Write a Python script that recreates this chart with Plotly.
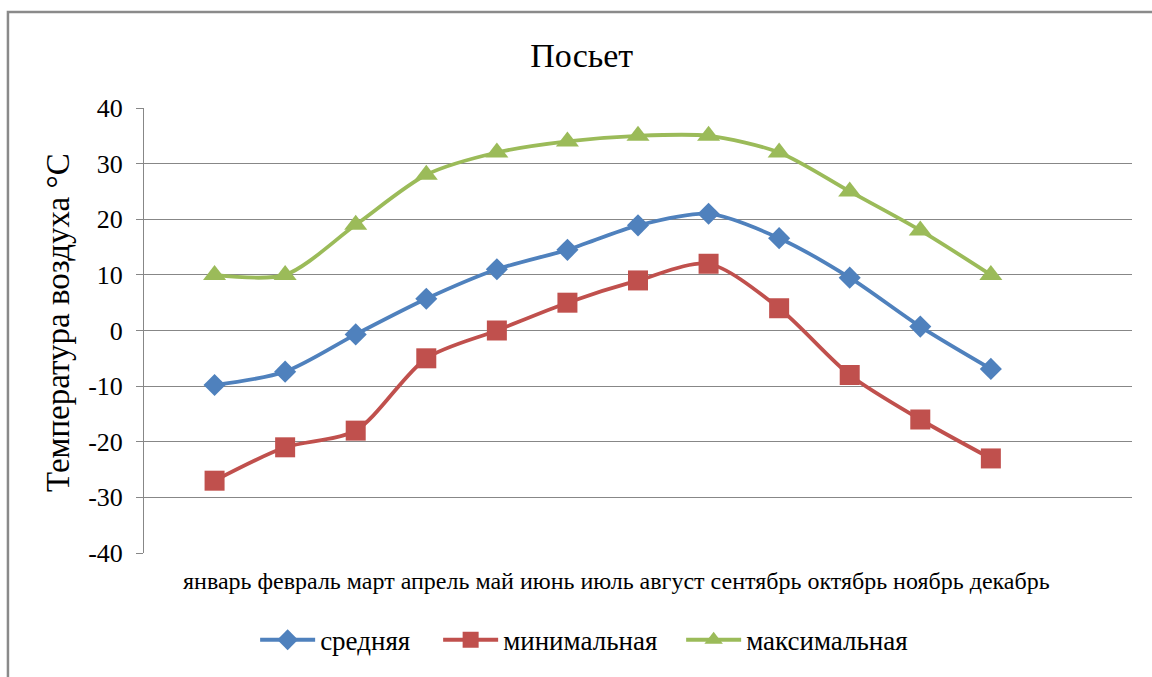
import plotly.graph_objects as go

# Monthly air temperature, Posyet (°C)
months = ["январь", "февраль", "март", "апрель", "май", "июнь",
          "июль", "август", "сентябрь", "октябрь", "ноябрь", "декабрь"]
t_mean = [-9.8, -7.4, -0.7, 5.7, 11.0, 14.5, 18.9, 21.0, 16.6, 9.5, 0.7, -6.9]
t_min = [-27, -21, -18, -5, 0, 5, 9, 12, 4, -8, -16, -23]
t_max = [10, 10, 19, 28, 32, 34, 35, 35, 32, 25, 18, 10]
y_ticks = [-40, -30, -20, -10, 0, 10, 20, 30, 40]

FONT = "Liberation Serif"
GRID = "#878787"

# name, values, colour, marker symbol, marker size, legend entry width (px)
series = [
    ("средняя", t_mean, "#4F81BD", "diamond", 17, 113),
    ("минимальная", t_min, "#C0504D", "square", 20, 173),
    ("максимальная", t_max, "#9BBB59", "triangle-up", 20, 165),
]

idx = list(range(len(months)))

fig = go.Figure()
for name, vals, color, symbol, size, lw in series:
    fig.add_trace(go.Scatter(
        x=idx, y=vals, name=name, mode="lines+markers",
        line=dict(color=color, width=3.8, shape="spline", smoothing=0.8),
        marker=dict(symbol=symbol, size=size, color=color, line=dict(width=0)),
        legendwidth=lw,
    ))

fig.update_layout(
    width=1152, height=677,
    margin=dict(l=144, r=20, t=108, b=120),
    paper_bgcolor="white", plot_bgcolor="white",
    font=dict(family=FONT, color="black"),
    showlegend=True,
    legend=dict(
        orientation="h", x=0.447, xanchor="center", y=-0.196, yanchor="middle",
        font=dict(family=FONT, size=27, color="black"),
        itemwidth=55, traceorder="normal",
    ),
    title=dict(text="Посьет", x=0.505, xanchor="center", y=0.919, yanchor="middle",
               font=dict(family=FONT, size=34, color="black")),
)

fig.update_xaxes(
    range=[-1, 13], showgrid=False, zeroline=False, showticklabels=False,
    showline=False, ticks="", fixedrange=True,
)
fig.update_yaxes(
    range=[-40, 40], tickvals=y_ticks, ticktext=[str(v) for v in y_ticks],
    showgrid=True, gridcolor=GRID, gridwidth=1, zeroline=False,
    showline=True, linecolor=GRID, linewidth=1,
    ticks="outside", ticklen=7, tickcolor=GRID, tickwidth=1,
    ticklabelstandoff=8,
    tickfont=dict(family=FONT, size=26, color="black"),
)

# category labels written as one line under the plot
fig.add_annotation(
    text=" ".join(months), xref="paper", yref="paper",
    x=0.478, y=-0.062, xanchor="center", yanchor="middle", showarrow=False,
    font=dict(family=FONT, size=24, color="black"),
)

# vertical axis title
fig.add_annotation(
    text="Температура воздуха °С", xref="paper", yref="paper",
    x=-0.087, y=0.517, xanchor="center", yanchor="middle", textangle=-90,
    showarrow=False, font=dict(family=FONT, size=33, color="black"),
)

# chart frame
fig.add_shape(
    type="rect", xref="paper", yref="paper",
    x0=-0.1377, x1=1.06, y0=-0.32, y1=1.216,
    line=dict(color="#8A8A8A", width=2.5), fillcolor="rgba(0,0,0,0)", layer="below",
)

fig.write_html("out.html")
